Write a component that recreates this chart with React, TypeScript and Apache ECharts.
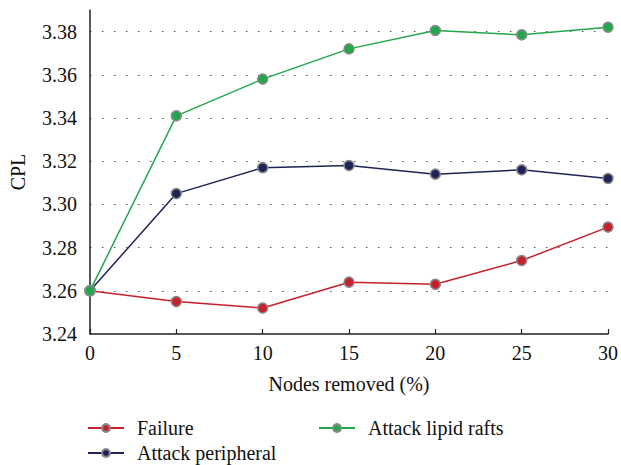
import React, { useEffect, useRef } from "react";
import * as echarts from "echarts";

const xValues = [0, 5, 10, 15, 20, 25, 30];
const failure = [3.26, 3.255, 3.252, 3.264, 3.263, 3.274, 3.2895];
const attackPeripheral = [3.26, 3.305, 3.317, 3.318, 3.314, 3.316, 3.312];
const attackLipidRafts = [3.26, 3.341, 3.358, 3.372, 3.3805, 3.3785, 3.382];

const seriesNames = ["Failure", "Attack peripheral", "Attack lipid rafts"];
const seriesColors = ["#c8202a", "#1f2457", "#20a84b"];

const FONT = "Liberation Serif";
const FS = 20;

export default function App() {
  const ref = useRef<HTMLDivElement>(null);
  useEffect(() => {
    if (!ref.current) return;
    const chart = echarts.init(ref.current, null, { renderer: "svg" });
    const datasets = [failure, attackPeripheral, attackLipidRafts];
    const mk = (i: number) => ({
      name: seriesNames[i],
      type: "line",
      data: xValues.map((x, j) => [x, datasets[i][j]]),
      symbol: "circle",
      symbolSize: 10,
      showSymbol: true,
      lineStyle: { color: seriesColors[i], width: 1.5 },
      itemStyle: { color: seriesColors[i], borderColor: "#8a8a8a", borderWidth: 1.5 },
      z: 3 + i,
    });
    const legendBase = {
      itemWidth: 36,
      itemHeight: 10,
      itemGap: 10,
      padding: 0,
      textStyle: { fontFamily: FONT, fontSize: FS, color: "#111", padding: [0, 0, 0, 8] },
    };
    chart.setOption({
      animation: false,
      grid: { left: 89, right: 12, top: 10, bottom: 131, containLabel: false },
      xAxis: {
        type: "value",
        min: 0,
        max: 30,
        interval: 5,
        name: "Nodes removed (%)",
        nameLocation: "middle",
        nameGap: 40,
        nameTextStyle: { fontFamily: FONT, fontSize: FS, color: "#111" },
        axisLine: { show: true, lineStyle: { color: "#222", width: 1.5 } },
        axisTick: { show: true, inside: true, length: 5, lineStyle: { color: "#222", width: 1.2 } },
        axisLabel: { fontFamily: FONT, fontSize: FS, color: "#111", margin: 9 },
        splitLine: { show: false },
      },
      yAxis: {
        type: "value",
        min: 3.24,
        max: 3.39,
        interval: 0.02,
        name: "CPL",
        nameLocation: "middle",
        nameGap: 62,
        nameTextStyle: { fontFamily: FONT, fontSize: FS, color: "#111" },
        axisLine: { show: true, lineStyle: { color: "#222", width: 1.5 } },
        axisTick: { show: false },
        axisLabel: {
          fontFamily: FONT,
          fontSize: FS,
          color: "#111",
          margin: 13,
          showMaxLabel: false,
          formatter: (v: number) => v.toFixed(2),
        },
        splitLine: {
          show: true,
          showMinLine: false,
          showMaxLine: false,
          lineStyle: { color: "#555", type: [1.5, 10.5], width: 1.2 },
        },
      },
      legend: [
        { ...legendBase, data: [seriesNames[0]], left: 87, top: 418 },
        { ...legendBase, data: [seriesNames[2]], left: 318, top: 418 },
        { ...legendBase, data: [seriesNames[1]], left: 87, top: 443 },
      ],
      series: [mk(0), mk(1), mk(2)],
    });
    return () => chart.dispose();
  }, []);
  return <div ref={ref} style={{ width: 621, height: 465, position: "absolute", left: 0, top: 0 }} />;
}
